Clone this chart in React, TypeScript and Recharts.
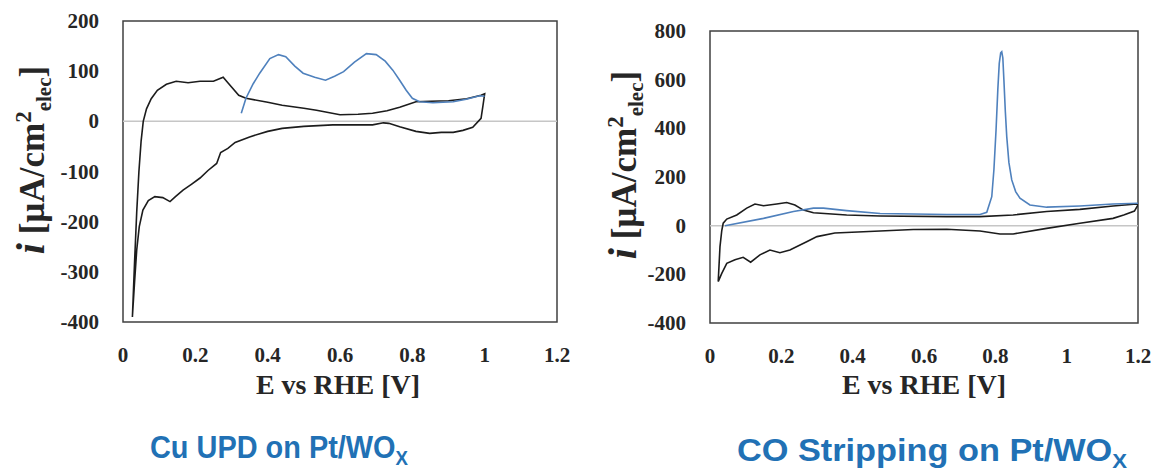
import React from "react";
import { LineChart, Line, XAxis, YAxis, ReferenceLine, ReferenceArea } from "recharts";

const xTicks = [0, 0.2, 0.4, 0.6, 0.8, 1, 1.2];
const cuTicksY = [-400, -300, -200, -100, 0, 100, 200];
const coTicksY = [-400, -200, 0, 200, 400, 600, 800];

// Cu UPD panel: blank CV on Pt/WOx (black), anodic then cathodic sweep
const cuBaseE = [
  0.026, 0.032, 0.038, 0.044, 0.05, 0.056, 0.065, 0.078, 0.095, 0.12, 0.147, 0.18, 0.213, 0.25, 0.277,
  0.29, 0.32, 0.34, 0.4, 0.44, 0.5, 0.535, 0.6, 0.65, 0.69, 0.73, 0.765, 0.81, 0.85, 0.9, 0.95, 0.99, 1.0,
  0.995, 0.99, 0.967, 0.94, 0.913, 0.88, 0.848, 0.81, 0.765, 0.735, 0.72, 0.69, 0.63, 0.58, 0.5, 0.44,
  0.4, 0.35, 0.31, 0.29, 0.27, 0.259, 0.235, 0.213, 0.19, 0.166, 0.145, 0.13, 0.11, 0.088, 0.07, 0.055,
  0.045, 0.038, 0.032, 0.026,
];
const cuBaseI = [
  -390, -280, -180, -100, -40, 0, 25, 45, 62, 74, 80, 77, 80, 80, 88,
  77, 52, 46, 38, 32, 26, 22, 13, 14, 16, 21, 28, 39, 40, 41, 45, 52, 55,
  30, 6, -12, -18, -22, -22, -24, -20, -11, -4, -3, -7, -7, -7, -10, -14,
  -20, -31, -42, -54, -62, -84, -98, -113, -125, -137, -150, -160, -152, -150, -158, -177,
  -210, -256, -320, -389,
];

// Cu stripping sweep (blue)
const cuUpdE = [
  0.327, 0.34, 0.36, 0.378, 0.406, 0.43, 0.45, 0.475, 0.498, 0.53, 0.56, 0.585, 0.61, 0.64, 0.673,
  0.7, 0.725, 0.746, 0.765, 0.783, 0.8, 0.82, 0.857, 0.913, 0.949, 0.986, 1.0,
];
const cuUpdI = [
  16, 46, 75, 96, 125, 133, 129, 110, 96, 88, 82, 90, 99, 118, 135,
  133, 120, 102, 82, 62, 46, 39, 37, 39, 44, 51, 50,
];

// CO stripping panel: blank CV (black)
const coBaseE = [
  0.023, 0.028, 0.033, 0.037, 0.047, 0.075, 0.103, 0.126, 0.15, 0.187, 0.215, 0.238, 0.262, 0.29, 0.383,
  0.477, 0.664, 0.757, 0.85, 0.944, 1.037, 1.13, 1.196, 1.2,
  1.19, 1.16, 1.13, 1.037, 0.944, 0.85, 0.813, 0.757, 0.664, 0.57, 0.43, 0.35, 0.3, 0.271, 0.224, 0.196,
  0.168, 0.14, 0.114, 0.093, 0.07, 0.047, 0.033, 0.023,
];
const coBaseI = [
  -230, -86, -20, 10, 27, 44, 72, 89, 82, 89, 95, 85, 64, 53, 44,
  40, 37, 37, 44, 58, 67, 81, 89, 85,
  60, 44, 30, 10, -11, -34, -34, -22, -15, -16, -25, -30, -45, -66, -100, -111,
  -100, -120, -150, -130, -140, -155, -196, -230,
];

// CO oxidation sweep (blue)
const coStripE = [
  0.042, 0.15, 0.234, 0.29, 0.318, 0.383, 0.477, 0.664, 0.757, 0.776, 0.79, 0.796, 0.802, 0.807, 0.811,
  0.815, 0.818, 0.821, 0.824, 0.828, 0.832, 0.838, 0.846, 0.857, 0.869, 0.897, 0.944, 1.037, 1.13, 1.2,
];
const coStripI = [
  0, 30, 58, 72, 72, 62, 50, 46, 46, 55, 119, 230, 393, 560, 667,
  710, 715, 690, 599, 470, 366, 260, 188, 140, 113, 85, 76, 81, 89, 92,
];

const zip = (e: number[], i: number[]) => e.map((v, k) => ({ E: v, i: i[k] }));

const serif = "'Liberation Serif', 'Times New Roman', serif";
const sans = "'Liberation Sans Narrow', 'Liberation Sans', Arial, sans-serif";
const ink = "#262626";
const titleBlue = "#2171b5";

const XTick = ({ x, y, payload }: any) => (
  <text
    x={x}
    y={y + 40}
    textAnchor="middle"
    style={{ fontFamily: serif, fontWeight: "bold", fontSize: 21 }}
    fill={ink}
  >
    {payload.value}
  </text>
);

const YTick = ({ x, y, payload }: any) => (
  <text
    x={x - 24}
    y={y + 7}
    textAnchor="end"
    style={{ fontFamily: serif, fontWeight: "bold", fontSize: 21 }}
    fill={ink}
  >
    {payload.value}
  </text>
);

const YTitle = ({ cx, cy }: { cx: number; cy: number }) => (
  <text
    transform={`translate(${cx},${cy}) rotate(-90)`}
    textAnchor="middle"
    fontFamily={serif}
    fontWeight="bold"
    fontSize={35}
    fill={ink}
  >
    <tspan fontStyle="italic" fontSize={40}>i</tspan>
    <tspan> [µA/cm</tspan>
    <tspan dy={-13} fontSize={23}>2</tspan>
    <tspan dy={20} fontSize={21}>elec</tspan>
    <tspan dy={-7}>]</tspan>
  </text>
);

const Panel = ({
  left,
  width,
  margin,
  ticksY,
  domainY,
  black,
  blue,
}: {
  left: number;
  width: number;
  margin: { top: number; right: number; bottom: number; left: number };
  ticksY: number[];
  domainY: [number, number];
  black: { E: number; i: number }[];
  blue: { E: number; i: number }[];
}) => (
  <div style={{ position: "absolute", left, top: 0 }}>
    <LineChart width={width} height={420} margin={margin}>
      <XAxis
        type="number"
        dataKey="E"
        domain={[0, 1.2]}
        ticks={xTicks}
        axisLine={false}
        tickLine={false}
        tickSize={0}
        tickMargin={0}
        height={80}
        tick={<XTick />}
        allowDataOverflow
      />
      <YAxis
        type="number"
        dataKey="i"
        domain={domainY}
        ticks={ticksY}
        axisLine={false}
        tickLine={false}
        tickSize={0}
        tickMargin={0}
        width={110}
        tick={<YTick />}
        allowDataOverflow
      />
      <ReferenceLine y={0} stroke="#c6c6c6" strokeWidth={1.5} />
      <Line
        data={black}
        dataKey="i"
        type="linear"
        stroke="#1c1c1c"
        strokeWidth={1.6}
        dot={false}
        isAnimationActive={false}
      />
      <Line
        data={blue}
        dataKey="i"
        type="linear"
        stroke="#4f81bd"
        strokeWidth={1.6}
        dot={false}
        isAnimationActive={false}
      />
      <ReferenceArea
        x1={0}
        x2={1.2}
        y1={domainY[0]}
        y2={domainY[1]}
        fill="none"
        stroke="#404040"
        strokeWidth={1.5}
        ifOverflow="visible"
      />
    </LineChart>
  </div>
);

export default function App() {
  return (
    <div style={{ position: "absolute", left: 0, top: 0, width: 1152, height: 472, background: "#fff" }}>
      <Panel
        left={0}
        width={580}
        margin={{ top: 21, right: 23, bottom: 18, left: 13 }}
        ticksY={cuTicksY}
        domainY={[-400, 200]}
        black={zip(cuBaseE, cuBaseI)}
        blue={zip(cuUpdE, cuUpdI)}
      />
      <Panel
        left={580}
        width={572}
        margin={{ top: 31, right: 14, bottom: 17, left: 20 }}
        ticksY={coTicksY}
        domainY={[-400, 800]}
        black={zip(coBaseE, coBaseI)}
        blue={zip(coStripE, coStripI)}
      />
      <svg
        width={1152}
        height={472}
        style={{ position: "absolute", left: 0, top: 0, pointerEvents: "none" }}
      >
        <YTitle cx={44} cy={160} />
        <YTitle cx={636} cy={165} />
        <text x={338} y={394} textAnchor="middle" fontFamily={serif} fontWeight="bold" fontSize={28} fill={ink}>
          E vs RHE [V]
        </text>
        <text x={924} y={394} textAnchor="middle" fontFamily={serif} fontWeight="bold" fontSize={28} fill={ink}>
          E vs RHE [V]
        </text>
        <text
          x={150}
          y={458}
          fontFamily={sans}
          fontWeight="bold"
          fontSize={31}
          fill={titleBlue}
          textLength={258}
          lengthAdjust="spacingAndGlyphs"
        >
          Cu UPD on Pt/WO<tspan fontSize={20} dy={7}>X</tspan>
        </text>
        <text
          x={737}
          y={461}
          fontFamily={sans}
          fontWeight="bold"
          fontSize={31}
          fill={titleBlue}
          textLength={390}
          lengthAdjust="spacingAndGlyphs"
        >
          CO Stripping on Pt/WO<tspan fontSize={20} dy={7}>X</tspan>
        </text>
      </svg>
    </div>
  );
}
